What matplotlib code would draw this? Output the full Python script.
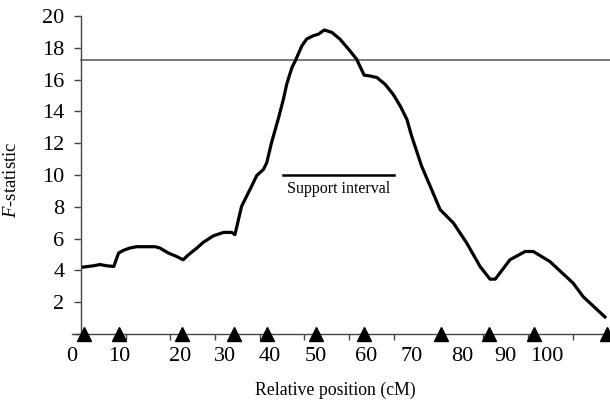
import numpy as np
import matplotlib
matplotlib.use('Agg')
import matplotlib.pyplot as plt

plt.rcParams['font.family'] = ['Liberation Serif', 'DejaVu Serif']
plt.rcParams['mathtext.fontset'] = 'custom'
plt.rcParams['mathtext.rm'] = 'Liberation Serif'
plt.rcParams['mathtext.it'] = 'Liberation Serif:italic'

# F-statistic profile along the chromosome (cM)
pos_cm = [2.4, 4.5, 5.9, 7.3, 8.8, 9.8, 10.8, 12.2, 13.6, 17.5, 18.5, 20.3,
          22.0, 23.4, 24.5, 26.3, 27.6, 29.8, 31.9, 33.6, 34.3, 35.7, 37.8,
          38.9, 40.3, 41.0, 42.0, 43.4, 44.5, 45.2, 46.3, 47.0, 48.4, 49.4,
          50.8, 51.9, 53.1, 54.7, 56.4, 58.2, 59.9, 61.5, 62.7, 64.2, 65.9,
          67.6, 69.1, 70.5, 71.5, 73.6, 75.7, 77.5, 80.3, 83.1, 85.9, 88.0,
          89.1, 92.2, 95.4, 97.1, 100.6, 105.5, 107.6, 112.2]
f_stat = [4.21, 4.29, 4.37, 4.29, 4.25, 5.09, 5.26, 5.41, 5.49, 5.49, 5.41,
          5.09, 4.88, 4.67, 4.98, 5.41, 5.76, 6.18, 6.39, 6.39, 6.25, 8.03,
          9.29, 9.97, 10.35, 10.77, 12.03, 13.50, 14.76, 15.71, 16.76, 17.18,
          18.13, 18.55, 18.76, 18.86, 19.12, 18.97, 18.55, 17.92, 17.29,
          16.28, 16.23, 16.13, 15.71, 15.08, 14.34, 13.50, 12.45, 10.56,
          9.09, 7.82, 6.98, 5.72, 4.25, 3.45, 3.45, 4.67, 5.19, 5.19, 4.56,
          3.20, 2.35, 1.07]

# marker loci (triangles on the axis)
markers_cm = [2.5, 9.9, 23.2, 34.1, 41.1, 51.4, 61.5, 77.7, 87.8, 97.3, 112.6]

threshold = 17.25
support_lo, support_hi, support_y = 44.4, 67.8, 10.0

# where the axis labels sit along the axis
label_text = ['0', '10', '20', '30', '40', '50', '60', '70', '80', '90', '100']
label_cm = [0.0, 9.9, 22.7, 32.2, 41.7, 51.4, 61.9, 71.6, 82.1, 91.2, 100.0]

fig = plt.figure(figsize=(6.10, 4.03), dpi=100)
# axes box starts at cM 0; the y axis itself is drawn a little to the right
ax = fig.add_axes([72 / 610, 0.1712, 538 / 610, 0.7891])
y_axis_at = 1.895
x_max = 113.26

ax.axhline(threshold, xmin=y_axis_at / x_max, color='#555555', lw=1.1, zorder=2)
ax.plot(pos_cm, f_stat, color='black', lw=2.3, solid_joinstyle='round', zorder=3)
ax.plot([support_lo, support_hi], [support_y, support_y], color='black', lw=1.8)
ax.text((support_lo + support_hi) / 2, 9.1, 'Support interval',
        ha='center', va='center', fontsize=11.5)

ax.plot(markers_cm, np.zeros(len(markers_cm)), linestyle='none', marker='^',
        color='black', markersize=10.5, clip_on=False, zorder=5)

for s in ['top', 'right']:
    ax.spines[s].set_visible(False)
for s in ['left', 'bottom']:
    ax.spines[s].set_color('#444444')
    ax.spines[s].set_linewidth(1.0)
ax.spines['left'].set_position(('data', y_axis_at))

ax.set_yticks(np.arange(0, 21, 2))
ax.set_yticklabels([''] + [str(v) for v in range(2, 21, 2)])
ax.tick_params(axis='y', direction='out', length=5, width=1, color='#444444',
               labelsize=16, pad=7)

ax.set_xticks(np.arange(y_axis_at, x_max, 9.41))
ax.set_xticklabels([])
ax.tick_params(axis='x', which='major', direction='out', length=4, width=1,
               color='#444444')
ax.set_xticks(label_cm, label_text, minor=True)
ax.tick_params(axis='x', which='minor', length=0, labelsize=16, pad=9)

ax.set_xlim(0, x_max)
ax.set_ylim(0, 20)

ax.set_ylabel(r'$F$-statistic', fontsize=13.5)
ax.yaxis.set_label_coords(-52 / 538, 0.484)
ax.set_xlabel('Relative position (cM)', fontsize=12.8)
ax.xaxis.set_label_coords(263 / 538, -0.176)
ax.xaxis.label.set_va('center')

fig.savefig('out.png', dpi=100)
